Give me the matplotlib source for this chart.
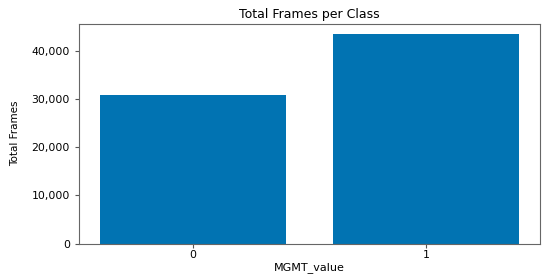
import matplotlib
matplotlib.use("Agg")
import matplotlib.pyplot as plt
from matplotlib.ticker import FuncFormatter

categories = ["0", "1"]
frames = [31000, 43500]

fig = plt.figure(figsize=(5.5, 2.78), dpi=100)
ax = fig.add_axes([79/550, 1-243.5/278, (540-79)/550, (243.5-24)/278])
ax.bar(range(len(categories)), frames, width=0.8, color="#0173b2")
ax.set_xticks(range(len(categories)))
ax.set_xticklabels(categories)
ax.yaxis.set_major_formatter(FuncFormatter(lambda v, p: f"{int(v):,}"))
ax.set_title("Total Frames per Class", fontsize=9, pad=4)
ax.set_xlabel("MGMT_value", fontsize=8, labelpad=1)
ax.set_ylabel("Total Frames", fontsize=7.5, labelpad=8, family="Liberation Sans Narrow")
ax.tick_params(labelsize=7.8, length=3, color="#555555")
ax.tick_params(axis="x", pad=2)
for s in ax.spines.values():
    s.set_color("#666666")
fig.savefig("out.png", dpi=100)
